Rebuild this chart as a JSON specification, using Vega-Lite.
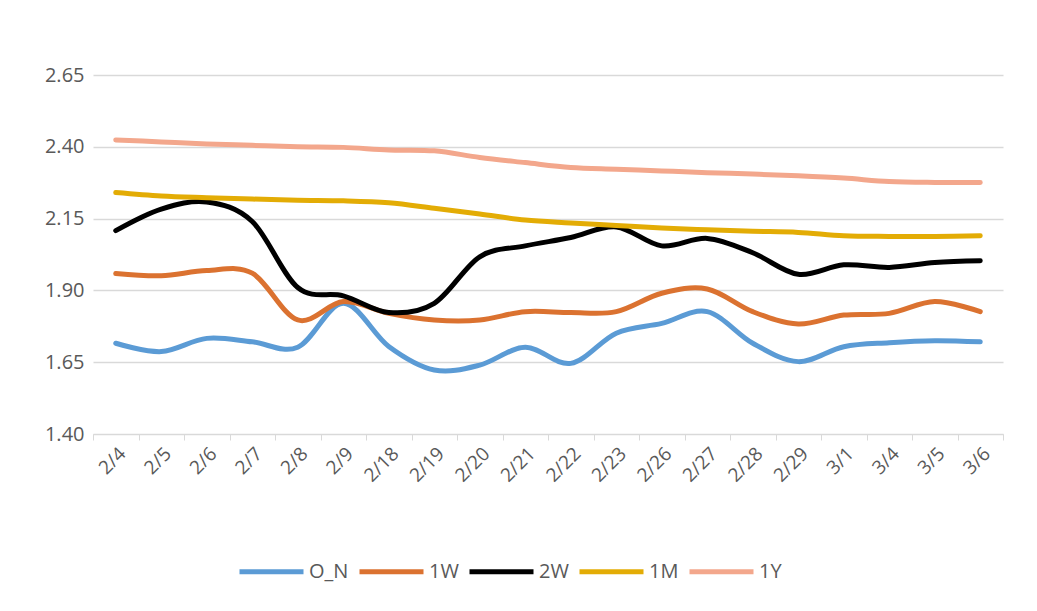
{
  "$schema": "https://vega.github.io/schema/vega-lite/v6.json",
  "width": 910,
  "height": 359,
  "autosize": {"type": "none"},
  "padding": {"left": 93, "top": 75, "right": 34, "bottom": 177},
  "background": "white",
  "config": {
    "view": {"stroke": null},
    "font": "Open Sans"
  },
  "datasets": {
    "rates": [
      {"d":"2/4","s":"O_N","v":1.716},{"d":"2/5","s":"O_N","v":1.687},{"d":"2/6","s":"O_N","v":1.733},{"d":"2/7","s":"O_N","v":1.721},{"d":"2/8","s":"O_N","v":1.702},{"d":"2/9","s":"O_N","v":1.855},{"d":"2/18","s":"O_N","v":1.705},{"d":"2/19","s":"O_N","v":1.623},{"d":"2/20","s":"O_N","v":1.640},{"d":"2/21","s":"O_N","v":1.702},{"d":"2/22","s":"O_N","v":1.646},{"d":"2/23","s":"O_N","v":1.751},{"d":"2/26","s":"O_N","v":1.785},{"d":"2/27","s":"O_N","v":1.826},{"d":"2/28","s":"O_N","v":1.716},{"d":"2/29","s":"O_N","v":1.652},{"d":"3/1","s":"O_N","v":1.704},{"d":"3/4","s":"O_N","v":1.718},{"d":"3/5","s":"O_N","v":1.725},{"d":"3/6","s":"O_N","v":1.721},
      {"d":"2/4","s":"1W","v":1.959},{"d":"2/5","s":"1W","v":1.951},{"d":"2/6","s":"1W","v":1.969},{"d":"2/7","s":"1W","v":1.960},{"d":"2/8","s":"1W","v":1.797},{"d":"2/9","s":"1W","v":1.861},{"d":"2/18","s":"1W","v":1.820},{"d":"2/19","s":"1W","v":1.797},{"d":"2/20","s":"1W","v":1.797},{"d":"2/21","s":"1W","v":1.826},{"d":"2/22","s":"1W","v":1.823},{"d":"2/23","s":"1W","v":1.826},{"d":"2/26","s":"1W","v":1.890},{"d":"2/27","s":"1W","v":1.905},{"d":"2/28","s":"1W","v":1.826},{"d":"2/29","s":"1W","v":1.783},{"d":"3/1","s":"1W","v":1.814},{"d":"3/4","s":"1W","v":1.820},{"d":"3/5","s":"1W","v":1.861},{"d":"3/6","s":"1W","v":1.826},
      {"d":"2/4","s":"2W","v":2.108},{"d":"2/5","s":"2W","v":2.183},{"d":"2/6","s":"2W","v":2.208},{"d":"2/7","s":"2W","v":2.140},{"d":"2/8","s":"2W","v":1.910},{"d":"2/9","s":"2W","v":1.881},{"d":"2/18","s":"2W","v":1.823},{"d":"2/19","s":"2W","v":1.855},{"d":"2/20","s":"2W","v":2.017},{"d":"2/21","s":"2W","v":2.055},{"d":"2/22","s":"2W","v":2.084},{"d":"2/23","s":"2W","v":2.121},{"d":"2/26","s":"2W","v":2.055},{"d":"2/27","s":"2W","v":2.081},{"d":"2/28","s":"2W","v":2.031},{"d":"2/29","s":"2W","v":1.956},{"d":"3/1","s":"2W","v":1.989},{"d":"3/4","s":"2W","v":1.980},{"d":"3/5","s":"2W","v":1.997},{"d":"3/6","s":"2W","v":2.003},
      {"d":"2/4","s":"1M","v":2.241},{"d":"2/5","s":"1M","v":2.229},{"d":"2/6","s":"1M","v":2.223},{"d":"2/7","s":"1M","v":2.218},{"d":"2/8","s":"1M","v":2.214},{"d":"2/9","s":"1M","v":2.212},{"d":"2/18","s":"1M","v":2.205},{"d":"2/19","s":"1M","v":2.186},{"d":"2/20","s":"1M","v":2.166},{"d":"2/21","s":"1M","v":2.145},{"d":"2/22","s":"1M","v":2.135},{"d":"2/23","s":"1M","v":2.126},{"d":"2/26","s":"1M","v":2.117},{"d":"2/27","s":"1M","v":2.111},{"d":"2/28","s":"1M","v":2.106},{"d":"2/29","s":"1M","v":2.102},{"d":"3/1","s":"1M","v":2.090},{"d":"3/4","s":"1M","v":2.088},{"d":"3/5","s":"1M","v":2.088},{"d":"3/6","s":"1M","v":2.090},
      {"d":"2/4","s":"1Y","v":2.424},{"d":"2/5","s":"1Y","v":2.417},{"d":"2/6","s":"1Y","v":2.410},{"d":"2/7","s":"1Y","v":2.405},{"d":"2/8","s":"1Y","v":2.400},{"d":"2/9","s":"1Y","v":2.398},{"d":"2/18","s":"1Y","v":2.389},{"d":"2/19","s":"1Y","v":2.386},{"d":"2/20","s":"1Y","v":2.363},{"d":"2/21","s":"1Y","v":2.345},{"d":"2/22","s":"1Y","v":2.328},{"d":"2/23","s":"1Y","v":2.322},{"d":"2/26","s":"1Y","v":2.316},{"d":"2/27","s":"1Y","v":2.310},{"d":"2/28","s":"1Y","v":2.305},{"d":"2/29","s":"1Y","v":2.299},{"d":"3/1","s":"1Y","v":2.291},{"d":"3/4","s":"1Y","v":2.279},{"d":"3/5","s":"1Y","v":2.276},{"d":"3/6","s":"1Y","v":2.276}
    ]
  },
  "data": {"name": "rates"},
  "mark": {"type": "line", "interpolate": "cardinal", "tension": 0, "strokeWidth": 5, "strokeCap": "round", "strokeJoin": "round"},
  "encoding": {
    "x": {
      "field": "d",
      "type": "ordinal",
      "sort": null,
      "bandPosition": 0.5,
      "scale": {"type": "band", "paddingInner": 0, "paddingOuter": 0},
      "axis": {
        "title": null,
        "labelAngle": -45,
        "labelFontSize": 19,
        "labelColor": "#595959",
        "labelPadding": 4,
        "tickBand": "extent",
        "tickColor": "#D9D9D9",
        "tickSize": 6,
        "domainColor": "#D9D9D9",
        "domainWidth": 1,
        "grid": false
      }
    },
    "y": {
      "field": "v",
      "type": "quantitative",
      "scale": {"domain": [1.4, 2.65], "nice": false, "zero": false},
      "axis": {
        "title": null,
        "values": [1.4, 1.65, 1.9, 2.15, 2.4, 2.65],
        "format": ".2f",
        "labelFontSize": 20,
        "labelColor": "#595959",
        "labelPadding": 9,
        "ticks": false,
        "domain": false,
        "grid": true,
        "gridColor": "#D9D9D9",
        "gridWidth": 1.3
      }
    },
    "color": {
      "field": "s",
      "type": "nominal",
      "sort": ["O_N", "1W", "2W", "1M", "1Y"],
      "scale": {
        "domain": ["O_N", "1W", "2W", "1M", "1Y"],
        "range": ["#5B9BD5", "#DB7230", "#000000", "#E3AC05", "#F3A78C"]
      },
      "legend": {
        "title": null,
        "orient": "none",
        "direction": "horizontal",
        "legendX": 144,
        "legendY": 462,
        "symbolType": "stroke",
        "symbolSize": 4096,
        "symbolStrokeWidth": 5,
        "labelFontSize": 20,
        "labelColor": "#595959",
        "labelOffset": 3,
        "columnPadding": 0
      }
    }
  }
}
